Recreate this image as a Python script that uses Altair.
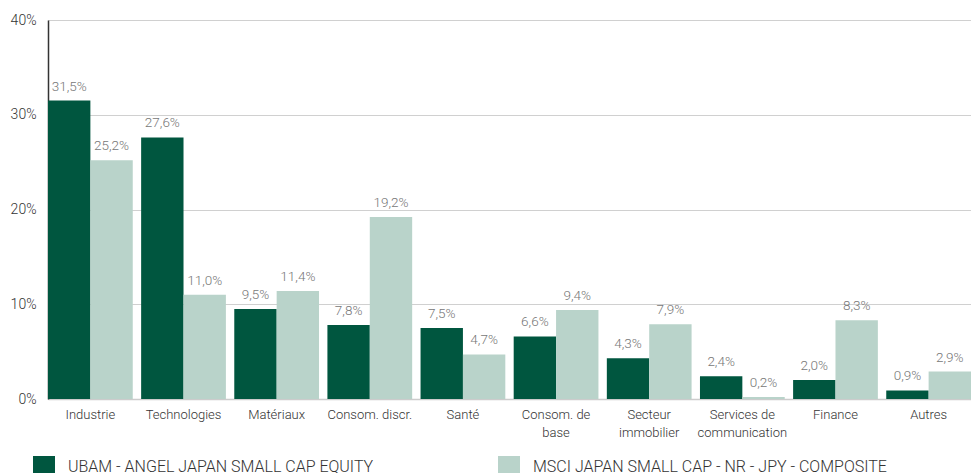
import altair as alt
import pandas as pd

categories = ["Industrie", "Technologies", "Matériaux", "Consom. discr.", "Santé",
              "Consom. de base", "Secteur immobilier", "Services de communication",
              "Finance", "Autres"]
label_lines = [["Industrie"], ["Technologies"], ["Matériaux"], ["Consom. discr."], ["Santé"],
               ["Consom. de", "base"], ["Secteur", "immobilier"], ["Services de", "communication"],
               ["Finance"], ["Autres"]]
series = ["UBAM - ANGEL JAPAN SMALL CAP EQUITY", "MSCI JAPAN SMALL CAP - NR - JPY - COMPOSITE"]
fund = [31.5, 27.6, 9.5, 7.8, 7.5, 6.6, 4.3, 2.4, 2.0, 0.9]
bench = [25.2, 11.0, 11.4, 19.2, 4.7, 9.4, 7.9, 0.2, 8.3, 2.9]
colors = ["#00563f", "#b9d3ca"]
y_ticks = [0, 10, 20, 30, 40]

rows = []
for i, c in enumerate(categories):
    for s, vals in zip(series, [fund, bench]):
        v = vals[i]
        rows.append({"cat": c, "series": s, "value": v,
                     "label": f"{v:.1f}".replace(".", ",") + "%"})
df = pd.DataFrame(rows)

expr_parts = []
for c, lines in zip(categories, label_lines):
    if len(lines) > 1:
        arr = "[" + ",".join("'" + l + "'" for l in lines) + "]"
        expr_parts.append(f"datum.label == '{c}' ? {arr}")
label_expr = " : ".join(expr_parts) + " : datum.label"

FONT = "Roboto"
W = 300

x = alt.X("cat:N", sort=categories, title=None,
          scale=alt.Scale(paddingInner=0.09, paddingOuter=0),
          axis=alt.Axis(labelAngle=0, labelExpr=label_expr, labelFont=FONT, labelFontSize=13,
                        labelFontWeight=W,
                        labelColor="#333333", labelPadding=9, labelLineHeight=18,
                        ticks=False, domainColor="#cccccc", domainWidth=1.5,
                        labelLimit=200, grid=False))
xo = alt.XOffset("series:N", sort=series)

base = alt.Chart(df).encode(x=x, xOffset=xo)

bars = base.mark_bar().encode(
    y=alt.Y("value:Q", title=None,
            scale=alt.Scale(domain=[0, 40]),
            axis=alt.Axis(values=y_ticks, labelExpr="datum.value + '%'", labelFont=FONT,
                          labelFontSize=14, labelFontWeight=W, labelColor="#333333",
                          labelPadding=12,
                          ticks=False, domainColor="#333333", domainWidth=1.5,
                          gridColor="#d0d0d0", gridWidth=1)),
    color=alt.Color("series:N", sort=series,
                    scale=alt.Scale(domain=series, range=colors),
                    legend=alt.Legend(title=None, orient="none", legendX=-15, legendY=436,
                                      direction="horizontal", columns=2, columnPadding=124,
                                      symbolType="square", symbolSize=484, symbolStrokeWidth=0,
                                      labelFont=FONT, labelFontSize=16, labelFontWeight=W,
                                      labelColor="#333333",
                                      labelOffset=13, labelLimit=500)),
)

texts = base.mark_text(baseline="alphabetic", dy=-10, font=FONT, fontSize=13.5,
                       fontWeight=W, color="#777777").encode(
    y="value:Q",
    text="label:N",
)

chart = alt.layer(bars, texts).properties(
    width=923, height=379,
    autosize=alt.AutoSizeParams(type="none"),
    padding={"left": 40, "top": 12, "right": 0, "bottom": 74},
).configure_view(stroke=None)

chart.save("out.html", embed_options={"renderer": "svg", "actions": False})
